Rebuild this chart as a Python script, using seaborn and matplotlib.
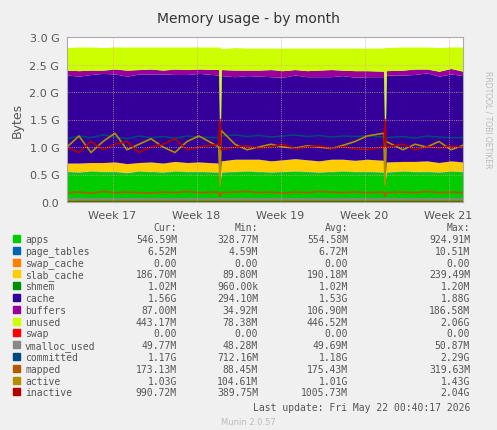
import matplotlib
matplotlib.use("Agg")
import matplotlib.pyplot as plt
import seaborn as sns
import pandas as pd

x = [0,1,2,3,4,5,6,7,8,9,10,11,12.65,12.75,12.85,14,15,16,17,18,19,20,21,22,23,24,25,26.4,26.5,26.6,28,29,30,31,32,33]
apps =       [0.55,0.54,0.56,0.55,0.55,0.53,0.56,0.55,0.54,0.56,0.55,0.55,0.54,0.33,0.54,0.55,0.56,0.55,0.54,0.55,0.56,0.55,0.54,0.55,0.56,0.55,0.55,0.54,0.33,0.54,0.56,0.55,0.55,0.54,0.56,0.55]
page_tables= [0.007]*36
swap_cache = [0.0]*36
slab_cache = [0.15,0.16,0.15,0.16,0.17,0.16,0.15,0.17,0.16,0.17,0.16,0.17,0.16,0.09,0.2,0.22,0.21,0.22,0.2,0.21,0.22,0.21,0.2,0.22,0.21,0.2,0.22,0.21,0.09,0.18,0.17,0.18,0.19,0.17,0.18,0.17]
shmem =      [0.001]*36
cache =      [1.6,1.58,1.6,1.62,1.6,1.59,1.61,1.6,1.62,1.58,1.6,1.61,1.6,0.29,1.55,1.5,1.52,1.51,1.53,1.5,1.52,1.51,1.53,1.5,1.52,1.51,1.5,1.52,0.29,1.58,1.57,1.58,1.6,1.57,1.58,1.57]
buffers =    [0.09,0.1,0.08,0.06,0.09,0.11,0.08,0.09,0.07,0.1,0.09,0.08,0.1,0.035,0.11,0.12,0.1,0.11,0.13,0.12,0.1,0.11,0.12,0.13,0.1,0.12,0.11,0.1,0.035,0.08,0.09,0.1,0.07,0.09,0.1,0.08]
unused =     [0.41,0.43,0.42,0.41,0.4,0.42,0.41,0.4,0.42,0.4,0.41,0.4,0.41,2.06,0.38,0.41,0.4,0.4,0.39,0.41,0.39,0.41,0.4,0.39,0.4,0.41,0.41,0.42,2.06,0.42,0.42,0.4,0.4,0.43,0.39,0.44]
vmalloc_used=[0.05]*36
committed =  [1.15,1.2,1.17,1.22,1.18,1.15,1.2,1.17,1.19,1.16,1.2,1.18,1.17,0.75,1.2,1.22,1.19,1.21,1.18,1.2,1.22,1.19,1.21,1.18,1.2,1.19,1.2,1.18,0.75,1.17,1.19,1.16,1.2,1.18,1.17,1.17]
mapped =     [0.17,0.18,0.16,0.19,0.17,0.18,0.17,0.16,0.18,0.17,0.19,0.17,0.18,0.1,0.17,0.18,0.19,0.17,0.18,0.16,0.18,0.17,0.19,0.18,0.17,0.18,0.17,0.18,0.1,0.17,0.18,0.17,0.19,0.17,0.18,0.17]
active =     [1.0,1.2,0.9,1.1,1.25,0.95,1.05,1.15,1.0,0.9,1.1,1.2,1.0,0.3,1.3,1.05,0.95,1.0,1.05,1.0,0.98,1.02,1.0,0.97,1.03,1.1,1.2,1.25,0.3,1.1,0.95,1.05,1.0,1.1,0.95,1.03]
inactive =   [1.0,0.9,1.1,0.95,1.05,1.1,0.9,1.0,1.05,1.15,0.95,1.0,1.05,1.5,0.95,1.0,1.02,0.98,1.0,1.05,0.97,1.0,1.02,0.98,1.0,0.97,0.95,1.0,1.5,1.0,1.05,0.95,1.0,0.98,1.02,0.99]
week_ticks = [3.8,10.8,17.8,24.8,31.8]
week_labels = ["Week 17","Week 18","Week 19","Week 20","Week 21"]

names = ["apps","page_tables","swap_cache","slab_cache","shmem","cache","buffers","unused","swap","vmalloc_used","committed","mapped","active","inactive"]
colors = ["#00CC00","#0066B3","#FF8000","#FFCC00","#008F00","#330099","#990099","#CCFF00","#FF0000","#888888","#00487D","#B35A00","#B38F00","#B30000"]
cur = ["546.59M","6.52M","0.00","186.70M","1.02M","1.56G","87.00M","443.17M","0.00","49.77M","1.17G","173.13M","1.03G","990.72M"]
mn  = ["328.77M","4.59M","0.00","89.80M","960.00k","294.10M","34.92M","78.38M","0.00","48.28M","712.16M","88.45M","104.61M","389.75M"]
avg = ["554.58M","6.72M","0.00","190.18M","1.02M","1.53G","106.90M","446.52M","0.00","49.69M","1.18G","175.43M","1.01G","1005.73M"]
mx  = ["924.91M","10.51M","0.00","239.49M","1.20M","1.88G","186.58M","2.06G","0.00","50.87M","2.29G","319.63M","1.43G","2.04G"]

sns.set_style("white")
plt.rcParams['font.family'] = ['DejaVu Sans']
fig = plt.figure(figsize=(4.97, 4.31), dpi=100, facecolor="#F0F0F0")
ax = fig.add_axes([67/497, 1-203/431, 396/497, 165/431])
ax.set_facecolor("white")
ax.stackplot(x, apps, page_tables, swap_cache, slab_cache, shmem, cache, buffers, unused,
             colors=colors[:8], linewidth=0)
df = pd.DataFrame({"x": x, "swap": [0.0]*36, "vmalloc_used": vmalloc_used, "committed": committed,
                   "mapped": mapped, "active": active, "inactive": inactive})
for n, c in zip(names[8:], colors[8:]):
    sns.lineplot(data=df, x="x", y=n, color=c, linewidth=1.2, ax=ax)
ax.set_xlim(0, 33)
ax.set_ylim(0, 3.0)
ax.set_yticks([0, 0.5, 1.0, 1.5, 2.0, 2.5, 3.0])
ax.set_yticklabels(["0.0","0.5 G","1.0 G","1.5 G","2.0 G","2.5 G","3.0 G"], fontsize=8, color="#555555")
ax.set_xticks(week_ticks)
ax.set_xticklabels(week_labels, fontsize=8, color="#555555")
ax.grid(True, color="#E0A0A0", linestyle=":", linewidth=0.6)
ax.set_axisbelow(False)
ax.set_xlabel("")
ax.set_ylabel("Bytes", fontsize=9, color="#555555")
ax.tick_params(length=2)
for s in ax.spines.values():
    s.set_color("#AAAAAA")
fig.text(0.5, 1-19/431, "Memory usage - by month", ha="center", va="center", fontsize=10, color="#333333")
fig.text(488/497, 1-120/431, "RRDTOOL / TOBI OETIKER", rotation=270, ha="center", va="center", fontsize=5.5, color="#BBBBBB")

def Y(p): return 1-p/431
fs = 7
for xx, t in [(177,"Cur:"),(258,"Min:"),(348,"Avg:"),(470,"Max:")]:
    fig.text(xx/497, Y(228), t, ha="right", va="center", fontsize=fs, color="#555555", family="DejaVu Sans Mono")
for i, n in enumerate(names):
    y = Y(240 + i*11.8)
    fig.patches.append(plt.Rectangle((13/497, y-3/431), 7/497, 7/431, transform=fig.transFigure, color=colors[i]))
    fig.text(25/497, y, n, ha="left", va="center", fontsize=fs, color="#555555", family="DejaVu Sans Mono")
    for xx, v in [(177,cur[i]),(258,mn[i]),(348,avg[i]),(470,mx[i])]:
        fig.text(xx/497, y, v, ha="right", va="center", fontsize=fs, color="#555555", family="DejaVu Sans Mono")
fig.text(470/497, Y(408), "Last update: Fri May 22 00:40:17 2026", ha="right", va="center", fontsize=fs, color="#555555", family="DejaVu Sans Mono")
fig.text(248/497, Y(423), "Munin 2.0.57", ha="center", va="center", fontsize=6, color="#BBBBBB")
fig.savefig("out.png", dpi=100, facecolor=fig.get_facecolor())
